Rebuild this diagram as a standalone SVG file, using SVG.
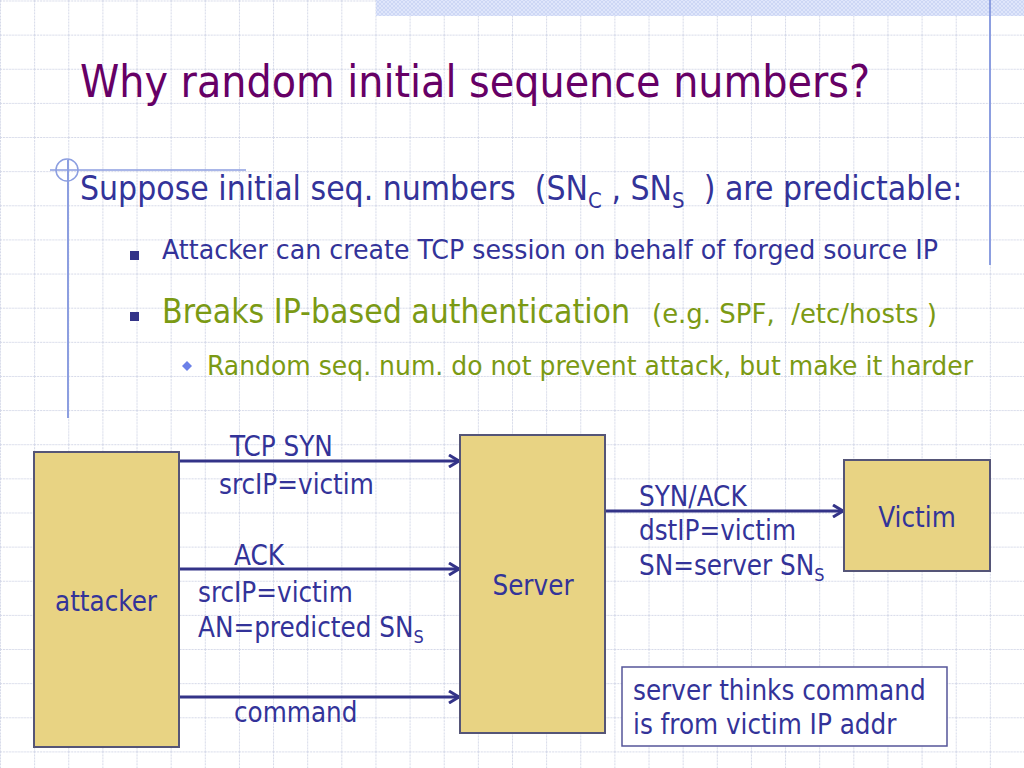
<svg xmlns="http://www.w3.org/2000/svg" width="1024" height="768" viewBox="0 0 1024 768">
<defs>
<pattern id="grid" x="0" y="0.5" width="34.133" height="34.133" patternUnits="userSpaceOnUse">
<path d="M0.5 0V34.133M0 0.5H34.133" fill="none" stroke="#d4d8e8" stroke-width="1" stroke-dasharray="2 1"/>
</pattern>
<pattern id="hatch" width="4" height="4" patternUnits="userSpaceOnUse">
<rect width="4" height="4" fill="#dfe6fb"/>
<path d="M0 0L4 4M4 0L0 4" stroke="#c9d3f4" stroke-width="0.8"/>
</pattern>
<marker id="arr" markerWidth="14" markerHeight="14" refX="12" refY="7" orient="auto" markerUnits="userSpaceOnUse">
<path d="M2 1L12 7L2 13" fill="none" stroke="#333388" stroke-width="3"/>
</marker>
<style>
text{font-family:"DejaVu Sans Condensed","DejaVu Sans",sans-serif;font-stretch:condensed;white-space:pre}
.b{fill:#333399}
.g{fill:#7b9a14}
.box{fill:#e8d383;stroke:#555577;stroke-width:2}
.conn{stroke:#333388;stroke-width:3;fill:none;marker-end:url(#arr)}
.lbl{font-size:27.5px;fill:#333399}
</style>
</defs>
<rect width="1024" height="768" fill="#ffffff"/>
<rect width="1024" height="768" fill="url(#grid)"/>
<rect x="376" y="0" width="648" height="16" fill="url(#hatch)"/>
<line x1="990" y1="0" x2="990" y2="265" stroke="#8c9ee0" stroke-width="2"/>
<line x1="50" y1="170" x2="246" y2="170" stroke="#8c9ee0" stroke-width="1.5"/>
<line x1="68" y1="160" x2="68" y2="418" stroke="#8c9ee0" stroke-width="2"/>
<circle cx="67" cy="170" r="11" fill="none" stroke="#8c9ee0" stroke-width="1.5"/>

<text x="80" y="97" font-size="44" fill="#660066" textLength="790" lengthAdjust="spacingAndGlyphs">Why random initial sequence numbers?</text>
<text x="80" y="200" font-size="33.4" class="b" xml:space="preserve">Suppose initial seq. numbers  (SN<tspan font-size="22" dy="8">C</tspan><tspan dy="-8"> , SN</tspan><tspan font-size="22" dy="8">S</tspan><tspan dy="-8">  ) are predictable:</tspan></text>
<rect x="130" y="251" width="9" height="9" fill="#333388"/>
<text x="162" y="259" font-size="26.5" class="b" textLength="776" lengthAdjust="spacingAndGlyphs">Attacker can create TCP session on behalf of forged source IP</text>
<rect x="130" y="312" width="9" height="9" fill="#333388"/>
<text x="162" y="323" font-size="34" class="g" textLength="468" lengthAdjust="spacingAndGlyphs">Breaks IP-based authentication</text>
<text x="652" y="323" font-size="26.5" class="g" textLength="285" lengthAdjust="spacingAndGlyphs" xml:space="preserve">(e.g. SPF,  /etc/hosts )</text>
<path d="M187 361L192 366L187 371L182 366Z" fill="#6b80e8"/>
<text x="207" y="375" font-size="26.5" class="g" textLength="766" lengthAdjust="spacingAndGlyphs">Random seq. num. do not prevent attack, but make it harder</text>

<g id="connectors">
<line class="conn" x1="179" y1="461" x2="459" y2="461"/>
<line class="conn" x1="179" y1="569" x2="459" y2="569"/>
<line class="conn" x1="179" y1="697" x2="459" y2="697"/>
<line class="conn" x1="605" y1="511" x2="843" y2="511"/>
<text class="lbl" x="230" y="456">TCP SYN</text>
<text class="lbl" x="219" y="494">srcIP=victim</text>
<text class="lbl" x="234" y="565">ACK</text>
<text class="lbl" x="198" y="602">srcIP=victim</text>
<text class="lbl" x="198" y="637">AN=predicted SN<tspan font-size="18" dy="6">S</tspan></text>
<text class="lbl" x="234" y="722">command</text>
<text class="lbl" x="639" y="506">SYN/ACK</text>
<text class="lbl" x="639" y="540">dstIP=victim</text>
<text class="lbl" x="639" y="575">SN=server SN<tspan font-size="18" dy="6">S</tspan></text>
</g>

<g id="attacker">
<rect class="box" x="34" y="452" width="145" height="295"/>
<text class="lbl" x="106" y="611" text-anchor="middle">attacker</text>
</g>
<g id="server">
<rect class="box" x="460" y="435" width="145" height="298"/>
<text class="lbl" x="533" y="595" text-anchor="middle">Server</text>
</g>
<g id="victim">
<rect class="box" x="844" y="460" width="146" height="111"/>
<text class="lbl" x="917" y="527" text-anchor="middle">Victim</text>
</g>
<g id="note">
<rect x="622" y="667" width="325" height="79" fill="#ffffff" stroke="#555599" stroke-width="1.5"/>
<text class="lbl" x="633" y="700">server thinks command</text>
<text class="lbl" x="633" y="734">is from victim IP addr</text>
</g>
</svg>
